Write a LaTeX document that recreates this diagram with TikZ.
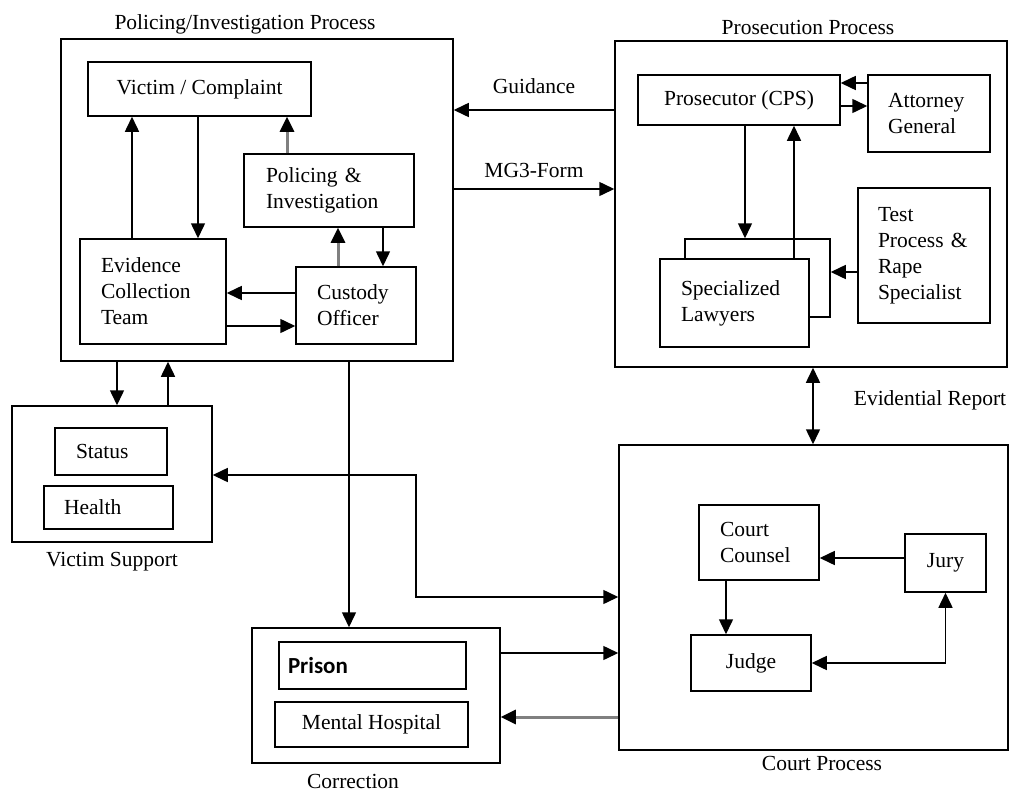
\documentclass[tikz,border=0pt]{standalone}
\usepackage{fontspec}
\setmainfont{Liberation Serif}
\newfontfamily\prisonfont{Carlito}
\usetikzlibrary{arrows.meta}
\begin{document}
\begin{tikzpicture}[x=1pt,y=-1pt,
  bx/.style={draw, line width=1.5pt, fill=white, inner sep=0pt, font=\fontsize{21.5}{26}\selectfont},
  lbox/.style={bx, align=left},
  lbl/.style={inner sep=0pt, font=\fontsize{21.5}{26}\selectfont},
  tip/.style={-{Triangle[length=15pt,width=14pt,color=black]}},
  arr/.style={line width=1.5pt, tip},
  garr/.style={line width=3pt, draw=black!50, tip},
  darr/.style={line width=1.5pt, {Triangle[length=15pt,width=14pt]}-{Triangle[length=15pt,width=14pt]}},
]
\useasboundingbox[fill=white] (0,0) rectangle (1009,792);

% outer boxes
\node[bx, minimum width=392pt, minimum height=322pt] (pol) at (257,200) {};
\node[bx, minimum width=392pt, minimum height=326pt] (pros) at (811,204) {};
\node[bx, minimum width=200pt, minimum height=136pt] (vs) at (112,474) {};
\node[bx, minimum width=248pt, minimum height=135pt] (cor) at (376,695.5) {};
\node[bx, minimum width=389pt, minimum height=305pt] (court) at (813.5,597.5) {};

% policing
\node[bx, minimum width=223pt, minimum height=54pt] (vic) at (199.5,89) {Victim / Complaint};
\node[lbox, minimum height=73pt, inner xsep=22pt, text width=126pt] (pinv) at (329,190.5) {Policing \&\\Investigation};
\node[lbox, minimum height=105pt, inner xsep=21pt, text width=104pt] (evid) at (153,291.5) {Evidence\\Collection\\Team};
\node[lbox, minimum height=77pt, inner xsep=21pt, text width=78pt] (cust) at (356,305.5) {Custody\\Officer};

% prosecution
\node[bx, minimum width=202pt, minimum height=50pt] (cps) at (739,100) {Prosecutor (CPS)};
\node[lbox, minimum height=77pt, inner xsep=20pt, text width=82pt] (att) at (929,113.5) {Attorney\\General};
\node[lbox, minimum height=135pt, inner xsep=20pt, text width=92pt] (test) at (924,255.5) {Test\\Process \&\\Rape\\Specialist};
\node[bx, minimum width=145pt, minimum height=78pt] (lawb) at (757.5,278) {};
\node[lbox, minimum height=88pt, inner xsep=21pt, text width=107pt] (law) at (734.5,303) {Specialized\\Lawyers};

% victim support
\node[lbox, minimum height=47pt, inner xsep=21pt, text width=70pt] (status) at (111,451.5) {Status};
\node[lbox, minimum height=43pt, inner xsep=20pt, text width=89pt] (health) at (108.5,507.5) {Health};

% correction
\node[lbox, minimum height=47pt, inner xsep=9pt, text width=169pt, font=\prisonfont\bfseries\fontsize{23}{28}\selectfont] (prison) at (372.5,665.5) {Prison};
\node[bx, minimum width=193pt, minimum height=45pt] (mh) at (371.5,724.5) {Mental Hospital};

% court
\node[lbox, minimum height=75pt, inner xsep=21pt, text width=78pt] (couns) at (759,542.5) {Court\\Counsel};
\node[bx, minimum width=81pt, minimum height=58pt] (jury) at (945.5,563) {Jury};
\node[bx, minimum width=120pt, minimum height=56pt] (judge) at (751,663) {Judge};

% labels
\node[lbl] (tpol) at (245,24) {Policing/Investigation Process};
\node[lbl] (tpros) at (808,27) {Prosecution Process};
\node[lbl] (tvs) at (112,562) {Victim Support};
\node[lbl] (tcor) at (353,781) {Correction};
\node[lbl] (tcourt) at (822,763) {Court Process};
\node[lbl] (tev) at (930,400) {Evidential Report};
\node[lbl] (tguid) at (534,86) {Guidance};
\node[lbl] (tmg) at (534,170) {MG3-Form};

% connectors: policing
\draw[arr] (evid.north -| 132,0) -- (vic.south -| 132,0);
\draw[arr] (vic.south -| 198,0) -- (evid.north -| 198,0);
\draw[garr] (pinv.north -| 287,0) -- (vic.south -| 287,0);
\draw[garr] (cust.north -| 338,0) -- (pinv.south -| 338,0);
\draw[arr] (pinv.south -| 383,0) -- (cust.north -| 383,0);
\draw[arr] (cust.west |- 0,293) -- (evid.east |- 0,293);
\draw[arr] (evid.east |- 0,326) -- (cust.west |- 0,326);
\draw[arr] (pol.south -| 117,0) -- (vs.north -| 117,0);
\draw[arr] (vs.north -| 168,0) -- (pol.south -| 168,0);
\draw[arr] (pol.south -| 349,0) -- (cor.north -| 349,0);
\draw[arr] (pros.west |- 0,110) -- (pol.east |- 0,110);
\draw[arr] (pol.east |- 0,189) -- (pros.west |- 0,189);

% prosecution
\draw[arr] (att.west |- 0,83) -- (cps.east |- 0,83);
\draw[arr] (cps.east |- 0,106) -- (att.west |- 0,106);
\draw[arr] (cps.south -| 745,0) -- (lawb.north -| 745,0);
\draw[arr] (law.north -| 794,0) -- (cps.south -| 794,0);
\draw[arr] (test.west |- 0,272) -- (lawb.east |- 0,272);
\draw[darr] (pros.south -| 813,0) -- (court.north -| 813,0);

% lower
\draw[darr] (vs.east |- 0,475) -| (416,597) -- (court.west |- 0,597);
\draw[arr] (cor.east |- 0,653) -- (court.west |- 0,653);
\draw[garr] (court.west |- 0,717) -- (cor.east |- 0,717);
\draw[arr] (jury.west |- 0,558) -- (couns.east |- 0,558);
\draw[arr] (couns.south -| 726,0) -- (judge.north -| 726,0);
\draw[darr] (judge.east) -| (jury.south);
\end{tikzpicture}
\end{document}
